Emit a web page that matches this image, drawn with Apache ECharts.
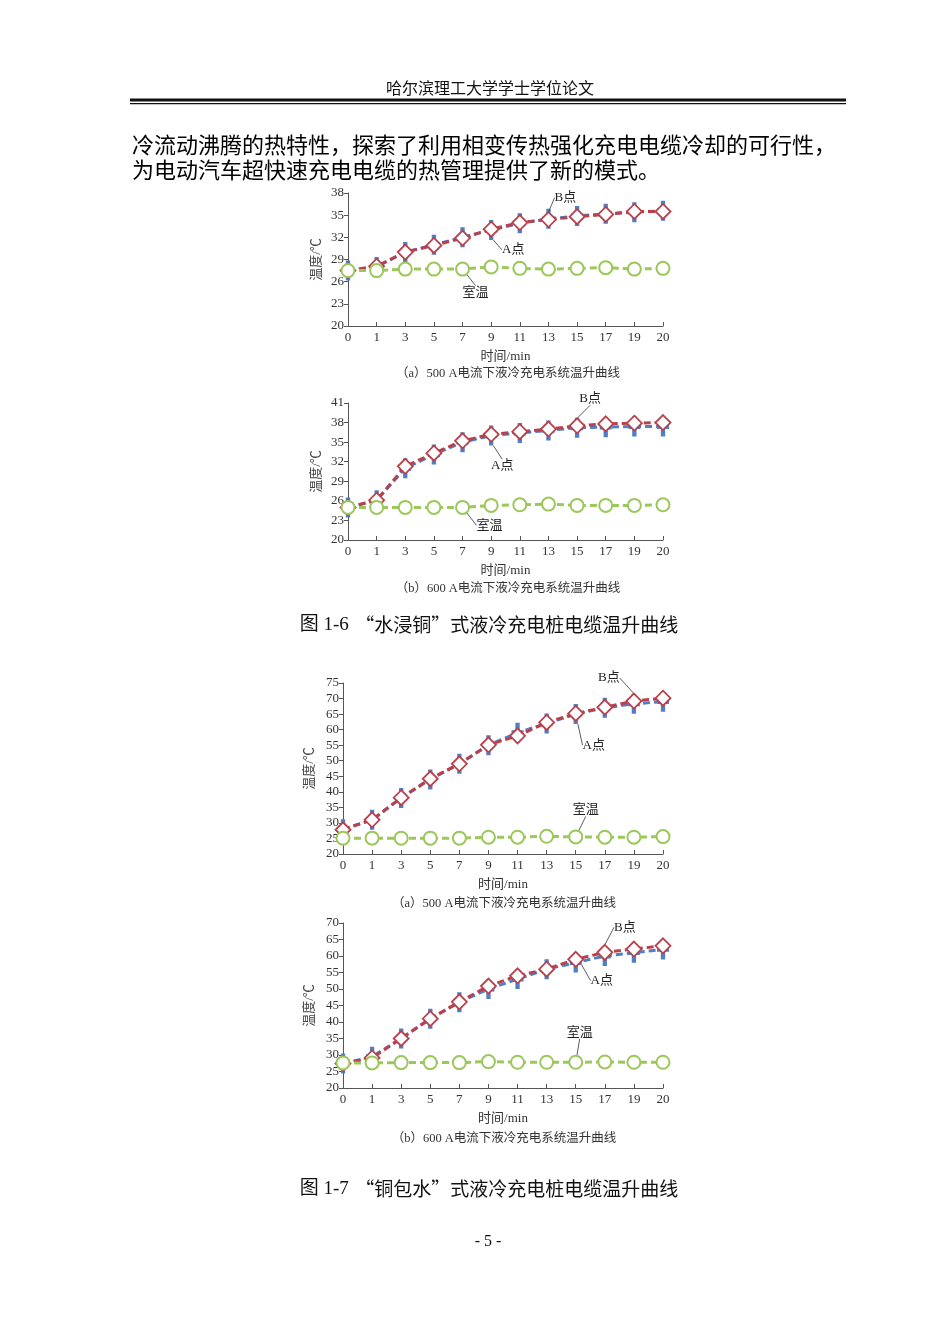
<!DOCTYPE html>
<html>
<head>
<meta charset="utf-8">
<script src="https://cdn.jsdelivr.net/npm/echarts@6/dist/echarts.min.js"></script>
<style>
html,body{margin:0;padding:0;background:#fff;}
#c{width:950px;height:1342px;}
</style>
</head>
<body>
<div id="c"></div>
<script>
// ---------- data ----------
const xCats = ['0','1','3','5','7','9','11','13','15','17','19','20'];

// Fig 1-6 (a) 500 A
const f6a_A = [27.5,28.0,30.0,31.0,32.0,33.0,33.9,34.5,34.9,35.2,35.4,35.6];
const f6a_B = [27.5,28.1,30.0,30.9,31.9,33.1,34.0,34.4,34.8,35.1,35.5,35.5];
const f6a_R = [27.5,27.5,27.7,27.7,27.7,28.0,27.8,27.7,27.8,27.9,27.7,27.8];
// Fig 1-6 (b) 600 A
const f6b_A = [25.0,26.1,31.0,33.1,35.0,36.0,36.4,36.8,37.2,37.3,37.4,37.4];
const f6b_B = [25.0,26.1,31.3,33.3,35.2,36.2,36.6,37.0,37.5,37.8,37.9,38.0];
const f6b_R = [25.0,25.0,25.0,25.0,25.0,25.3,25.4,25.5,25.3,25.3,25.3,25.4];
// Fig 1-7 (a) 500 A
const f7a_A = [28.0,31.0,38.0,44.0,49.0,55.0,59.0,62.0,65.0,67.0,68.3,69.0];
const f7a_B = [27.8,31.0,38.1,44.2,49.0,55.1,58.0,62.3,65.2,67.2,69.2,70.1];
const f7a_R = [25.1,25.1,25.1,25.1,25.1,25.4,25.4,25.7,25.5,25.4,25.4,25.6];
// Fig 1-7 (b) 600 A
const f7b_A = [27.4,29.5,35.0,41.0,46.0,50.0,53.0,56.0,58.0,60.0,61.0,62.0];
const f7b_B = [27.4,29.1,35.0,41.0,46.1,50.9,54.0,56.0,59.0,61.1,62.1,63.1];
const f7b_R = [27.6,27.6,27.7,27.7,27.7,28.0,27.8,27.8,27.8,27.9,27.8,27.8];

// y tick labels
const f6aTicks = [20,23,26,29,32,35,38];
const f6bTicks = [20,23,26,29,32,35,38,41];
const f7aTicks = [20,25,30,35,40,45,50,55,60,65,70,75];
const f7bTicks = [20,25,30,35,40,45,50,55,60,65,70];

// texts
const headerText = '哈尔滨理工大学学士学位论文';
const bodyLines = ['冷流动沸腾的热特性，探索了利用相变传热强化充电电缆冷却的可行性，','为电动汽车超快速充电电缆的热管理提供了新的模式。'];
const subCaps = ['（a）500 A电流下液冷充电系统温升曲线','（b）600 A电流下液冷充电系统温升曲线','（a）500 A电流下液冷充电系统温升曲线','（b）600 A电流下液冷充电系统温升曲线'];
const figNums = ['图 1-6','图 1-7'];
const figTitles = ['“水浸铜”式液冷充电桩电缆温升曲线','“铜包水”式液冷充电桩电缆温升曲线'];
const pageNo = '- 5 -';
const nameA = 'A点', nameB = 'B点', nameR = '室温';

// ---------- styling ----------
const SERIF = '"Liberation Serif","Noto Sans CJK SC",serif';
const CJK = '"Noto Sans CJK SC","Liberation Serif",sans-serif';
const cBlue = '#4f7fc6', cRed = '#b9414c', cGreen = '#9cc75a';
const plusPath = 'path://M3.2,0H6.8V3.8H10V6.2H6.8V10H3.2V6.2H0V3.8H3.2Z';

const grids = [
  {left:348, top:193, width:315, height:133},
  {left:348, top:403, width:315, height:137},
  {left:343, top:683, width:320, height:171},
  {left:343, top:923, width:320, height:165}
];
const yConf = [
  {min:20,max:38,ticks:f6aTicks},
  {min:20,max:41,ticks:f6bTicks},
  {min:20,max:75,ticks:f7aTicks},
  {min:20,max:70,ticks:f7bTicks}
];
const sets = [
  [f6a_A,f6a_B,f6a_R],
  [f6b_A,f6b_B,f6b_R],
  [f7a_A,f7a_B,f7a_R],
  [f7b_A,f7b_B,f7b_R]
];
// annotation: [series(0=A,1=B,2=R), dataIndex, dx, dy]
const notes = [
  [[1,7,17,-22],[0,5,22,20],[2,4,13,23]],
  [[1,8,13,-27],[0,5,11,30],[2,4,27,18]],
  [[1,10,-25,-23],[0,8,18,31],[2,8,10,-27]],
  [[1,9,20,-25],[0,8,26,18],[2,8,4,-30]]
];
const names = [nameA,nameB,nameR];

const xAxes = [], yAxes = [], series = [];
grids.forEach((g,i)=>{
  xAxes.push({
    gridIndex:i, type:'category', data:xCats, boundaryGap:false,
    name:'时间/min', nameLocation:'middle', nameGap:24,
    nameTextStyle:{fontFamily:SERIF,fontSize:13,color:'#333'},
    axisLine:{lineStyle:{color:'#555',width:1}},
    axisTick:{inside:true,length:4,lineStyle:{color:'#555'},interval:0},
    axisLabel:{interval:0,fontFamily:SERIF,fontSize:13,color:'#333',margin:5},
    splitLine:{show:false}
  });
  const y = yConf[i];
  yAxes.push({
    gridIndex:i, type:'value', min:y.min, max:y.max,
    name:'温度/℃', nameLocation:'middle', nameGap:i<2?25:27, nameRotate:90,
    nameTextStyle:{fontFamily:SERIF,fontSize:13,color:'#444'},
    axisLine:{show:true,lineStyle:{color:'#555',width:1}},
    axisTick:{show:true,length:4,lineStyle:{color:'#555'},customValues:y.ticks},
    axisLabel:{fontFamily:SERIF,fontSize:13,color:'#333',margin:4,customValues:y.ticks},
    splitLine:{show:false}
  });
  const sty = [
    {color:cBlue, symbol:plusPath, size:[12,20], fill:cBlue, border:0, lw:3},
    {color:cRed, symbol:'diamond', size:15, fill:'#fff', border:1.8, lw:3},
    {color:cGreen, symbol:'circle', size:13, fill:'#fff', border:2, lw:3}
  ];
  sets[i].forEach((arr,k)=>{
    const note = notes[i].find(n=>n[0]===k);
    const data = arr.map((v,j)=>{
      if (note && note[1]===j) {
        return {value:v, label:{show:true, formatter:names[k]}};
      }
      return v;
    });
    const s = sty[k];
    series.push({
      type:'line', xAxisIndex:i, yAxisIndex:i, name:names[k], data:data,
      symbol:s.symbol, symbolSize:s.size, showAllSymbol:true,
      lineStyle:{color:s.color,width:s.lw,type:[7,4]},
      itemStyle:{color:s.fill,borderColor:s.color,borderWidth:s.border},
      label:{show:false, position:'inside', fontFamily:SERIF, fontSize:13, color:'#222'},
      labelLine:{show:true, lineStyle:{color:'#333', width:0.8}},
      labelLayout: note ? function(p){ if (p.dataIndex===note[1]) return {dx:note[2], dy:note[3]}; } : undefined,
      emphasis:{disabled:true},
      animation:false, z:2+k
    });
  });
});

function figCap(i, y) {
  return {type:'text', x:489, y:y, style:{
    text:'{n|'+figNums[i]+'}  {t|'+figTitles[i]+'}', align:'center', verticalAlign:'middle',
    rich:{n:{font:'19px '+SERIF, fill:'#111'}, t:{font:'19px '+CJK, fill:'#111'}}
  }};
}

const graphics = [
  {type:'text', x:490, y:88, style:{text:headerText, font:'16px '+CJK, fill:'#111', align:'center', verticalAlign:'middle'}},
  {type:'rect', shape:{x:130,y:98.5,width:716,height:3}, style:{fill:'#111'}},
  {type:'rect', shape:{x:130,y:103,width:716,height:1.2}, style:{fill:'#111'}},
  {type:'text', x:132, y:145, style:{text:bodyLines[0], font:'22px '+CJK, fill:'#000', verticalAlign:'middle'}},
  {type:'text', x:132, y:170, style:{text:bodyLines[1], font:'22px '+CJK, fill:'#000', verticalAlign:'middle'}},
  {type:'text', x:508, y:374, style:{text:subCaps[0], font:'12.5px '+SERIF, fill:'#333', align:'center', verticalAlign:'middle'}},
  {type:'text', x:508, y:589, style:{text:subCaps[1], font:'12.5px '+SERIF, fill:'#333', align:'center', verticalAlign:'middle'}},
  {type:'text', x:504, y:904, style:{text:subCaps[2], font:'12.5px '+SERIF, fill:'#333', align:'center', verticalAlign:'middle'}},
  {type:'text', x:504, y:1139, style:{text:subCaps[3], font:'12.5px '+SERIF, fill:'#333', align:'center', verticalAlign:'middle'}},
  figCap(0, 625),
  figCap(1, 1189),
  {type:'text', x:488, y:1242, style:{text:pageNo, font:'16px '+SERIF, fill:'#111', align:'center', verticalAlign:'middle'}}
];

const chart = echarts.init(document.getElementById('c'), null, {renderer:'canvas'});
chart.setOption({
  backgroundColor:'#fff',
  animation:false,
  grid:grids,
  xAxis:xAxes,
  yAxis:yAxes,
  series:series,
  graphic:graphics
});
</script>
</body>
</html>
